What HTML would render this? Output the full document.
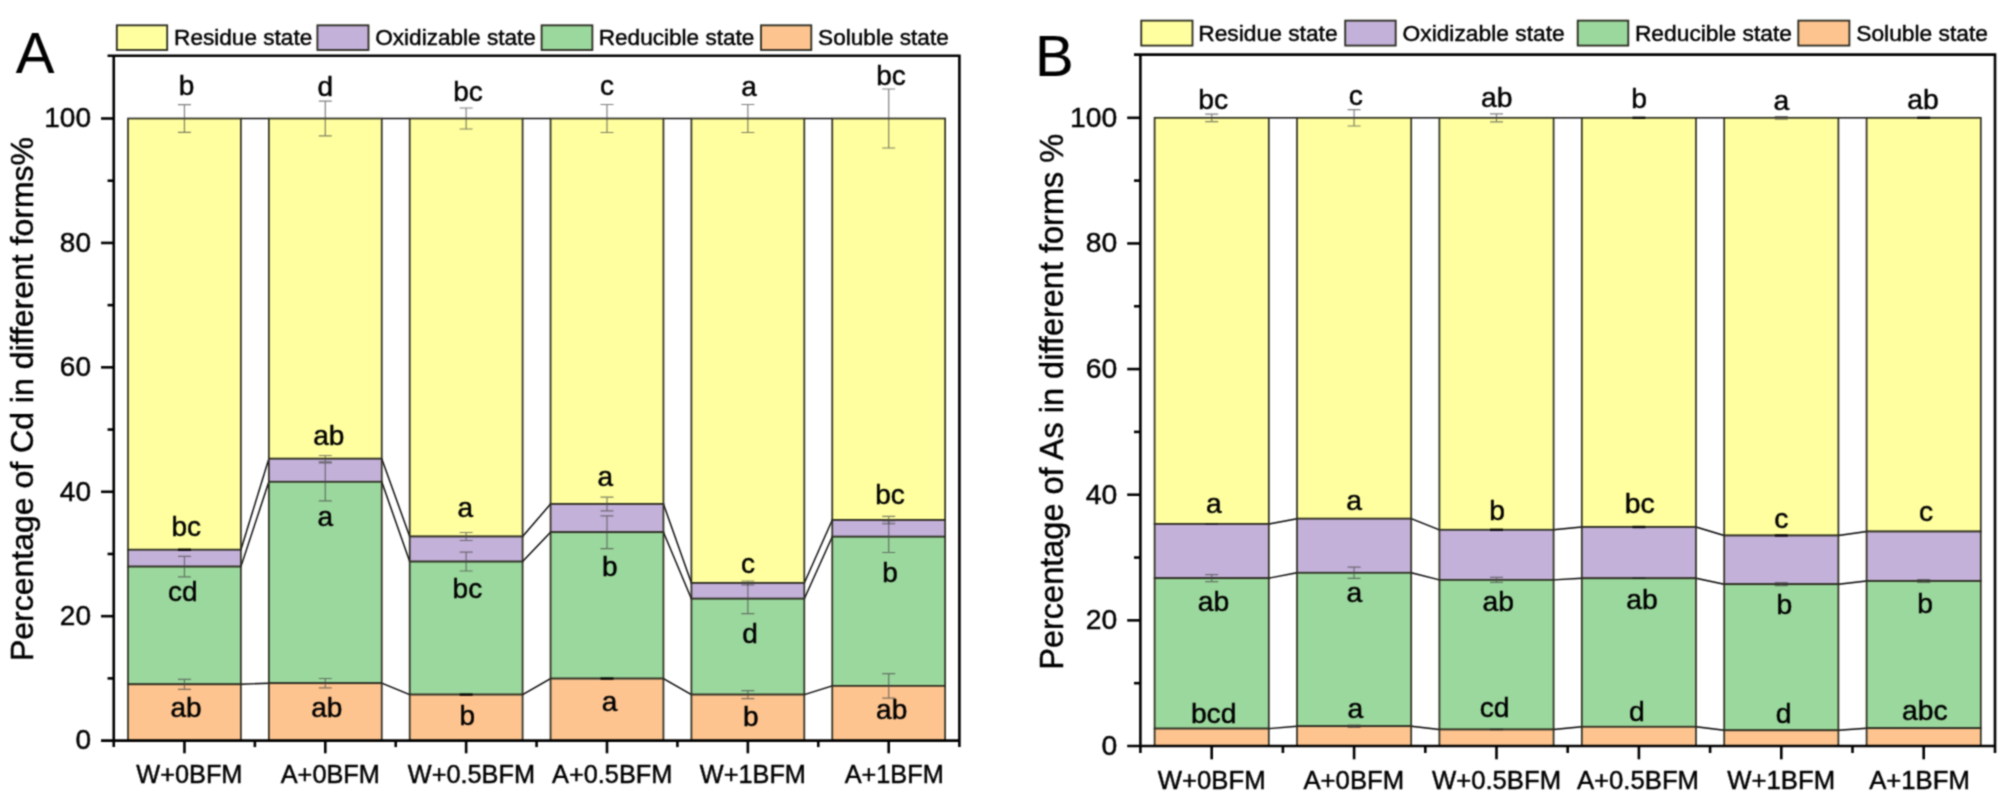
<!DOCTYPE html>
<html lang="en"><head><meta charset="utf-8"><title>Percentage of Cd and As in different forms</title>
<style>html,body{margin:0;padding:0;background:#fff}body{width:2008px;height:799px;overflow:hidden}svg{display:block;font-family:'Liberation Sans', Arial, sans-serif}text{fill:#000;stroke:#000;stroke-width:0.45px;paint-order:stroke}</style>
</head><body>
<svg width="2008" height="799" viewBox="0 0 2008 799">
<defs><filter id="soft" x="0" y="0" width="100%" height="100%" filterUnits="objectBoundingBox" color-interpolation-filters="sRGB"><feConvolveMatrix order="3" kernelMatrix="1 2 1 2 6 2 1 2 1" divisor="18" edgeMode="duplicate" preserveAlpha="true"/></filter></defs>
<g filter="url(#soft)">
<rect width="2008" height="799" fill="#fff"/>
<g id="chartA">
<g stroke="#000" stroke-width="1.4" fill="none">
<line x1="240.9" y1="684.3" x2="268.85" y2="683.2"/>
<line x1="240.9" y1="566.6" x2="268.85" y2="481.8"/>
<line x1="240.9" y1="549.75" x2="268.85" y2="458.7"/>
<line x1="240.9" y1="118.5" x2="268.85" y2="118.5"/>
<line x1="381.75" y1="683.2" x2="409.7" y2="694.6"/>
<line x1="381.75" y1="481.8" x2="409.7" y2="561.6"/>
<line x1="381.75" y1="458.7" x2="409.7" y2="536.5"/>
<line x1="381.75" y1="118.5" x2="409.7" y2="118.5"/>
<line x1="522.6" y1="694.6" x2="550.55" y2="678.6"/>
<line x1="522.6" y1="561.6" x2="550.55" y2="532.2"/>
<line x1="522.6" y1="536.5" x2="550.55" y2="504"/>
<line x1="522.6" y1="118.5" x2="550.55" y2="118.5"/>
<line x1="663.45" y1="678.6" x2="691.4" y2="694.6"/>
<line x1="663.45" y1="532.2" x2="691.4" y2="598.7"/>
<line x1="663.45" y1="504" x2="691.4" y2="583"/>
<line x1="663.45" y1="118.5" x2="691.4" y2="118.5"/>
<line x1="804.3" y1="694.6" x2="832.25" y2="685.9"/>
<line x1="804.3" y1="598.7" x2="832.25" y2="536.7"/>
<line x1="804.3" y1="583" x2="832.25" y2="520"/>
<line x1="804.3" y1="118.5" x2="832.25" y2="118.5"/>
</g>
<g stroke="#2c2c20" stroke-width="1.7">
<rect x="128" y="118.5" width="112.9" height="431.25" fill="#FFFF9F"/>
<rect x="128" y="549.75" width="112.9" height="16.85" fill="#C3B1D9"/>
<rect x="128" y="566.6" width="112.9" height="117.7" fill="#9BD89D"/>
<rect x="128" y="684.3" width="112.9" height="56.3" fill="#FDC48F"/>
<rect x="268.85" y="118.5" width="112.9" height="340.2" fill="#FFFF9F"/>
<rect x="268.85" y="458.7" width="112.9" height="23.1" fill="#C3B1D9"/>
<rect x="268.85" y="481.8" width="112.9" height="201.4" fill="#9BD89D"/>
<rect x="268.85" y="683.2" width="112.9" height="57.4" fill="#FDC48F"/>
<rect x="409.7" y="118.5" width="112.9" height="418" fill="#FFFF9F"/>
<rect x="409.7" y="536.5" width="112.9" height="25.1" fill="#C3B1D9"/>
<rect x="409.7" y="561.6" width="112.9" height="133" fill="#9BD89D"/>
<rect x="409.7" y="694.6" width="112.9" height="46" fill="#FDC48F"/>
<rect x="550.55" y="118.5" width="112.9" height="385.5" fill="#FFFF9F"/>
<rect x="550.55" y="504" width="112.9" height="28.2" fill="#C3B1D9"/>
<rect x="550.55" y="532.2" width="112.9" height="146.4" fill="#9BD89D"/>
<rect x="550.55" y="678.6" width="112.9" height="62" fill="#FDC48F"/>
<rect x="691.4" y="118.5" width="112.9" height="464.5" fill="#FFFF9F"/>
<rect x="691.4" y="583" width="112.9" height="15.7" fill="#C3B1D9"/>
<rect x="691.4" y="598.7" width="112.9" height="95.9" fill="#9BD89D"/>
<rect x="691.4" y="694.6" width="112.9" height="46" fill="#FDC48F"/>
<rect x="832.25" y="118.5" width="112.9" height="401.5" fill="#FFFF9F"/>
<rect x="832.25" y="520" width="112.9" height="16.7" fill="#C3B1D9"/>
<rect x="832.25" y="536.7" width="112.9" height="149.2" fill="#9BD89D"/>
<rect x="832.25" y="685.9" width="112.9" height="54.7" fill="#FDC48F"/>
</g>
<g stroke="#4a4a4a" stroke-opacity="0.7" stroke-width="1.2" fill="none">
<path d="M184.45 104.6V132.4M177.95 104.6H190.95M177.95 132.4H190.95"/>
<path stroke="#000" stroke-opacity="0.9" stroke-width="2.4" d="M177.95 549.75H190.95"/>
<path d="M184.45 556.4V576.8M177.95 556.4H190.95M177.95 576.8H190.95"/>
<path d="M184.45 679.3V689.3M177.95 679.3H190.95M177.95 689.3H190.95"/>
<path d="M325.3 101.2V135.8M318.8 101.2H331.8M318.8 135.8H331.8"/>
<path d="M325.3 455.5V461.9M318.8 455.5H331.8M318.8 461.9H331.8"/>
<path d="M325.3 462.8V500.8M318.8 462.8H331.8M318.8 500.8H331.8"/>
<path d="M325.3 678.5V687.9M318.8 678.5H331.8M318.8 687.9H331.8"/>
<path d="M466.15 108V129M459.65 108H472.65M459.65 129H472.65"/>
<path d="M466.15 532.5V540.5M459.65 532.5H472.65M459.65 540.5H472.65"/>
<path d="M466.15 552.2V571M459.65 552.2H472.65M459.65 571H472.65"/>
<path stroke="#000" stroke-opacity="0.9" stroke-width="2.4" d="M459.65 694.6H472.65"/>
<path d="M607 104.5V132.5M600.5 104.5H613.5M600.5 132.5H613.5"/>
<path d="M607 497.1V510.9M600.5 497.1H613.5M600.5 510.9H613.5"/>
<path d="M607 515.8V548.6M600.5 515.8H613.5M600.5 548.6H613.5"/>
<path stroke="#000" stroke-opacity="0.9" stroke-width="2.4" d="M600.5 678.6H613.5"/>
<path d="M747.85 104.5V132.5M741.35 104.5H754.35M741.35 132.5H754.35"/>
<path d="M747.85 581V585M741.35 581H754.35M741.35 585H754.35"/>
<path d="M747.85 583.7V613.7M741.35 583.7H754.35M741.35 613.7H754.35"/>
<path d="M747.85 690.6V698.6M741.35 690.6H754.35M741.35 698.6H754.35"/>
<path d="M888.7 89V148M882.2 89H895.2M882.2 148H895.2"/>
<path d="M888.7 516.3V523.7M882.2 516.3H895.2M882.2 523.7H895.2"/>
<path d="M888.7 520.9V552.5M882.2 520.9H895.2M882.2 552.5H895.2"/>
<path d="M888.7 673.7V698.1M882.2 673.7H895.2M882.2 698.1H895.2"/>
</g>
<g stroke="#000" stroke-width="2.6" fill="none" stroke-linecap="butt">
<path d="M113.75 54.5V747.1M959.4 54.5V747.1M107.55 55.8H960.7M101.05 740.6H960.7"/>
<line x1="107.55" y1="678.39" x2="113.75" y2="678.39"/>
<line x1="101.05" y1="616.18" x2="113.75" y2="616.18"/>
<line x1="107.55" y1="553.97" x2="113.75" y2="553.97"/>
<line x1="101.05" y1="491.76" x2="113.75" y2="491.76"/>
<line x1="107.55" y1="429.55" x2="113.75" y2="429.55"/>
<line x1="101.05" y1="367.34" x2="113.75" y2="367.34"/>
<line x1="107.55" y1="305.13" x2="113.75" y2="305.13"/>
<line x1="101.05" y1="242.92" x2="113.75" y2="242.92"/>
<line x1="107.55" y1="180.71" x2="113.75" y2="180.71"/>
<line x1="101.05" y1="118.5" x2="113.75" y2="118.5"/>
<line x1="184.45" y1="740.6" x2="184.45" y2="753.3"/>
<line x1="254.88" y1="740.6" x2="254.88" y2="747.1"/>
<line x1="325.3" y1="740.6" x2="325.3" y2="753.3"/>
<line x1="395.73" y1="740.6" x2="395.73" y2="747.1"/>
<line x1="466.15" y1="740.6" x2="466.15" y2="753.3"/>
<line x1="536.58" y1="740.6" x2="536.58" y2="747.1"/>
<line x1="607" y1="740.6" x2="607" y2="753.3"/>
<line x1="677.42" y1="740.6" x2="677.42" y2="747.1"/>
<line x1="747.85" y1="740.6" x2="747.85" y2="753.3"/>
<line x1="818.27" y1="740.6" x2="818.27" y2="747.1"/>
<line x1="888.7" y1="740.6" x2="888.7" y2="753.3"/>
</g>
<g font-size="28" text-anchor="end" fill="#000">
<text x="91" y="749.4">0</text>
<text x="91" y="624.98">20</text>
<text x="91" y="500.56">40</text>
<text x="91" y="376.14">60</text>
<text x="91" y="251.72">80</text>
<text x="91" y="127.3">100</text>
</g>
<g font-size="25.3" text-anchor="middle" fill="#000">
<text x="189.4" y="782.6">W+0BFM</text>
<text x="330.3" y="782.6">A+0BFM</text>
<text x="471.4" y="782.6">W+0.5BFM</text>
<text x="612.2" y="782.6">A+0.5BFM</text>
<text x="752.9" y="782.6">W+1BFM</text>
<text x="894.2" y="782.6">A+1BFM</text>
</g>
<text font-size="32" text-anchor="middle" fill="#000" transform="translate(33.1 399) rotate(-90)">Percentage of Cd in different forms%</text>
<text font-size="58" x="15.7" y="72.5" fill="#000" style="stroke-width:0.15px">A</text>
<g stroke="#2a2a20" stroke-width="1.8">
<rect x="116.8" y="25.3" width="50.4" height="24.7" fill="#FFFF9F"/>
<rect x="317.4" y="25.3" width="51.1" height="24.7" fill="#C3B1D9"/>
<rect x="541.6" y="25.3" width="50.8" height="24.7" fill="#9BD89D"/>
<rect x="761" y="25.3" width="50.3" height="24.7" fill="#FDC48F"/>
</g>
<g font-size="22.6" fill="#000">
<text x="174.1" y="45.2">Residue state</text>
<text x="375.2" y="45.2">Oxidizable state</text>
<text x="598.7" y="45.2">Reducible state</text>
<text x="818.1" y="45.2">Soluble state</text>
</g>
<g font-size="28" text-anchor="middle" fill="#000">
<text x="186.6" y="95">b</text>
<text x="325.35" y="96.2">d</text>
<text x="468" y="101.4">bc</text>
<text x="607.1" y="95.2">c</text>
<text x="749.1" y="95.7">a</text>
<text x="891.1" y="85.4">bc</text>
<text x="186.25" y="535.6">bc</text>
<text x="328.75" y="444.6">ab</text>
<text x="465.3" y="517.4">a</text>
<text x="605.2" y="486.3">a</text>
<text x="748" y="572.5">c</text>
<text x="890" y="503.6">bc</text>
<text x="182.8" y="600.6">cd</text>
<text x="325.2" y="525.6">a</text>
<text x="467.4" y="597.5">bc</text>
<text x="609.7" y="575.5">b</text>
<text x="750" y="642.6">d</text>
<text x="890" y="581.6">b</text>
<text x="186.1" y="717.25">ab</text>
<text x="326.8" y="717.1">ab</text>
<text x="467.2" y="725.2">b</text>
<text x="609.5" y="710.6">a</text>
<text x="750.9" y="726.4">b</text>
<text x="891.7" y="718.9">ab</text>
</g>
</g>
<g id="chartB">
<g stroke="#000" stroke-width="1.4" fill="none">
<line x1="1268.8" y1="728.6" x2="1297" y2="726.2"/>
<line x1="1268.8" y1="578.2" x2="1297" y2="572.8"/>
<line x1="1268.8" y1="524" x2="1297" y2="518.7"/>
<line x1="1268.8" y1="117.8" x2="1297" y2="117.8"/>
<line x1="1411.2" y1="726.2" x2="1439.4" y2="729.5"/>
<line x1="1411.2" y1="572.8" x2="1439.4" y2="579.9"/>
<line x1="1411.2" y1="518.7" x2="1439.4" y2="529.8"/>
<line x1="1411.2" y1="117.8" x2="1439.4" y2="117.8"/>
<line x1="1553.6" y1="729.5" x2="1581.8" y2="726.8"/>
<line x1="1553.6" y1="579.9" x2="1581.8" y2="578.3"/>
<line x1="1553.6" y1="529.8" x2="1581.8" y2="527"/>
<line x1="1553.6" y1="117.8" x2="1581.8" y2="117.8"/>
<line x1="1696" y1="726.8" x2="1724.2" y2="730.3"/>
<line x1="1696" y1="578.3" x2="1724.2" y2="584.2"/>
<line x1="1696" y1="527" x2="1724.2" y2="535.5"/>
<line x1="1696" y1="117.8" x2="1724.2" y2="117.8"/>
<line x1="1838.4" y1="730.3" x2="1866.6" y2="728.2"/>
<line x1="1838.4" y1="584.2" x2="1866.6" y2="581"/>
<line x1="1838.4" y1="535.5" x2="1866.6" y2="531.5"/>
<line x1="1838.4" y1="117.8" x2="1866.6" y2="117.8"/>
</g>
<g stroke="#2c2c20" stroke-width="1.7">
<rect x="1154.6" y="117.8" width="114.2" height="406.2" fill="#FFFF9F"/>
<rect x="1154.6" y="524" width="114.2" height="54.2" fill="#C3B1D9"/>
<rect x="1154.6" y="578.2" width="114.2" height="150.4" fill="#9BD89D"/>
<rect x="1154.6" y="728.6" width="114.2" height="17.4" fill="#FDC48F"/>
<rect x="1297" y="117.8" width="114.2" height="400.9" fill="#FFFF9F"/>
<rect x="1297" y="518.7" width="114.2" height="54.1" fill="#C3B1D9"/>
<rect x="1297" y="572.8" width="114.2" height="153.4" fill="#9BD89D"/>
<rect x="1297" y="726.2" width="114.2" height="19.8" fill="#FDC48F"/>
<rect x="1439.4" y="117.8" width="114.2" height="412" fill="#FFFF9F"/>
<rect x="1439.4" y="529.8" width="114.2" height="50.1" fill="#C3B1D9"/>
<rect x="1439.4" y="579.9" width="114.2" height="149.6" fill="#9BD89D"/>
<rect x="1439.4" y="729.5" width="114.2" height="16.5" fill="#FDC48F"/>
<rect x="1581.8" y="117.8" width="114.2" height="409.2" fill="#FFFF9F"/>
<rect x="1581.8" y="527" width="114.2" height="51.3" fill="#C3B1D9"/>
<rect x="1581.8" y="578.3" width="114.2" height="148.5" fill="#9BD89D"/>
<rect x="1581.8" y="726.8" width="114.2" height="19.2" fill="#FDC48F"/>
<rect x="1724.2" y="117.8" width="114.2" height="417.7" fill="#FFFF9F"/>
<rect x="1724.2" y="535.5" width="114.2" height="48.7" fill="#C3B1D9"/>
<rect x="1724.2" y="584.2" width="114.2" height="146.1" fill="#9BD89D"/>
<rect x="1724.2" y="730.3" width="114.2" height="15.7" fill="#FDC48F"/>
<rect x="1866.6" y="117.8" width="114.2" height="413.7" fill="#FFFF9F"/>
<rect x="1866.6" y="531.5" width="114.2" height="49.5" fill="#C3B1D9"/>
<rect x="1866.6" y="581" width="114.2" height="147.2" fill="#9BD89D"/>
<rect x="1866.6" y="728.2" width="114.2" height="17.8" fill="#FDC48F"/>
</g>
<g stroke="#4a4a4a" stroke-opacity="0.7" stroke-width="1.2" fill="none">
<path d="M1211.7 114.05V121.55M1205.2 114.05H1218.2M1205.2 121.55H1218.2"/>
<path stroke="#111" stroke-opacity="0.8" stroke-width="1.3" d="M1205.2 524H1218.2"/>
<path d="M1211.7 574.7V581.7M1205.2 574.7H1218.2M1205.2 581.7H1218.2"/>
<path d="M1354.1 109.6V126M1347.6 109.6H1360.6M1347.6 126H1360.6"/>
<path d="M1354.1 567.2V578.4M1347.6 567.2H1360.6M1347.6 578.4H1360.6"/>
<path d="M1354.1 725V727.4M1347.6 725H1360.6M1347.6 727.4H1360.6"/>
<path d="M1496.5 113.8V121.8M1490 113.8H1503M1490 121.8H1503"/>
<path stroke="#000" stroke-opacity="0.9" stroke-width="2.4" d="M1490 529.8H1503"/>
<path d="M1496.5 577.4V582.4M1490 577.4H1503M1490 582.4H1503"/>
<path stroke="#111" stroke-opacity="0.8" stroke-width="1.3" d="M1490 729.5H1503"/>
<path stroke="#000" stroke-opacity="0.9" stroke-width="2.4" d="M1632.4 117.8H1645.4"/>
<path stroke="#000" stroke-opacity="0.9" stroke-width="2.4" d="M1632.4 527H1645.4"/>
<path stroke="#111" stroke-opacity="0.8" stroke-width="1.3" d="M1632.4 578.3H1645.4"/>
<path d="M1781.3 116.5V119.1M1774.8 116.5H1787.8M1774.8 119.1H1787.8"/>
<path stroke="#000" stroke-opacity="0.9" stroke-width="2.4" d="M1774.8 535.5H1787.8"/>
<path d="M1781.3 582.7V585.7M1774.8 582.7H1787.8M1774.8 585.7H1787.8"/>
<path stroke="#000" stroke-opacity="0.9" stroke-width="2.4" d="M1917.2 117.8H1930.2"/>
<path d="M1923.7 579.5V582.5M1917.2 579.5H1930.2M1917.2 582.5H1930.2"/>
</g>
<g stroke="#000" stroke-width="2.6" fill="none" stroke-linecap="butt">
<path d="M1140.4 53.3V753M1995 53.3V753M1134 54.6H1996.3M1127.2 746H1996.3"/>
<line x1="1134" y1="683.18" x2="1140.4" y2="683.18"/>
<line x1="1127.2" y1="620.36" x2="1140.4" y2="620.36"/>
<line x1="1134" y1="557.54" x2="1140.4" y2="557.54"/>
<line x1="1127.2" y1="494.72" x2="1140.4" y2="494.72"/>
<line x1="1134" y1="431.9" x2="1140.4" y2="431.9"/>
<line x1="1127.2" y1="369.08" x2="1140.4" y2="369.08"/>
<line x1="1134" y1="306.26" x2="1140.4" y2="306.26"/>
<line x1="1127.2" y1="243.44" x2="1140.4" y2="243.44"/>
<line x1="1134" y1="180.62" x2="1140.4" y2="180.62"/>
<line x1="1127.2" y1="117.8" x2="1140.4" y2="117.8"/>
<line x1="1211.7" y1="746" x2="1211.7" y2="759.3"/>
<line x1="1282.9" y1="746" x2="1282.9" y2="753"/>
<line x1="1354.1" y1="746" x2="1354.1" y2="759.3"/>
<line x1="1425.3" y1="746" x2="1425.3" y2="753"/>
<line x1="1496.5" y1="746" x2="1496.5" y2="759.3"/>
<line x1="1567.7" y1="746" x2="1567.7" y2="753"/>
<line x1="1638.9" y1="746" x2="1638.9" y2="759.3"/>
<line x1="1710.1" y1="746" x2="1710.1" y2="753"/>
<line x1="1781.3" y1="746" x2="1781.3" y2="759.3"/>
<line x1="1852.5" y1="746" x2="1852.5" y2="753"/>
<line x1="1923.7" y1="746" x2="1923.7" y2="759.3"/>
</g>
<g font-size="28.3" text-anchor="end" fill="#000">
<text x="1117.2" y="755">0</text>
<text x="1117.2" y="629.36">20</text>
<text x="1117.2" y="503.72">40</text>
<text x="1117.2" y="378.08">60</text>
<text x="1117.2" y="252.44">80</text>
<text x="1117.2" y="126.8">100</text>
</g>
<g font-size="25.7" text-anchor="middle" fill="#000">
<text x="1211.7" y="789.2">W+0BFM</text>
<text x="1353.8" y="789.2">A+0BFM</text>
<text x="1496.5" y="789.2">W+0.5BFM</text>
<text x="1638" y="789.2">A+0.5BFM</text>
<text x="1781.2" y="789.2">W+1BFM</text>
<text x="1919.5" y="789.2">A+1BFM</text>
</g>
<text font-size="32.5" text-anchor="middle" fill="#000" transform="translate(1062.5 401.8) rotate(-90)">Percentage of As in different forms %</text>
<text font-size="58" x="1034.9" y="75.6" fill="#000" style="stroke-width:0.15px">B</text>
<g stroke="#2a2a20" stroke-width="1.8">
<rect x="1141.25" y="20.6" width="51.25" height="25" fill="#FFFF9F"/>
<rect x="1345.2" y="20.6" width="50.5" height="25" fill="#C3B1D9"/>
<rect x="1577.7" y="20.6" width="50.6" height="25" fill="#9BD89D"/>
<rect x="1798.3" y="20.6" width="51.1" height="25" fill="#FDC48F"/>
</g>
<g font-size="22.8" fill="#000">
<text x="1198.2" y="40.7">Residue state</text>
<text x="1402.5" y="40.7">Oxidizable state</text>
<text x="1634.9" y="40.7">Reducible state</text>
<text x="1856.2" y="40.7">Soluble state</text>
</g>
<g font-size="28.3" text-anchor="middle" fill="#000">
<text x="1213.1" y="109">bc</text>
<text x="1355.8" y="104.8">c</text>
<text x="1496.8" y="107.2">ab</text>
<text x="1639.2" y="107.6">b</text>
<text x="1781.3" y="110.2">a</text>
<text x="1922.9" y="108.6">ab</text>
<text x="1213.9" y="513.3">a</text>
<text x="1354.2" y="510">a</text>
<text x="1497.2" y="519.6">b</text>
<text x="1639.8" y="512.6">bc</text>
<text x="1781.3" y="527.8">c</text>
<text x="1926.1" y="520.9">c</text>
<text x="1213.5" y="610.6">ab</text>
<text x="1354.4" y="602">a</text>
<text x="1498.2" y="611.1">ab</text>
<text x="1642.1" y="609.2">ab</text>
<text x="1784.3" y="614.4">b</text>
<text x="1925" y="613">b</text>
<text x="1213.7" y="722.7">bcd</text>
<text x="1355.4" y="717.9">a</text>
<text x="1494.6" y="717.4">cd</text>
<text x="1636.9" y="720.7">d</text>
<text x="1783.5" y="722.7">d</text>
<text x="1924.9" y="720.2">abc</text>
</g>
</g>
</g>
</svg></body></html>
